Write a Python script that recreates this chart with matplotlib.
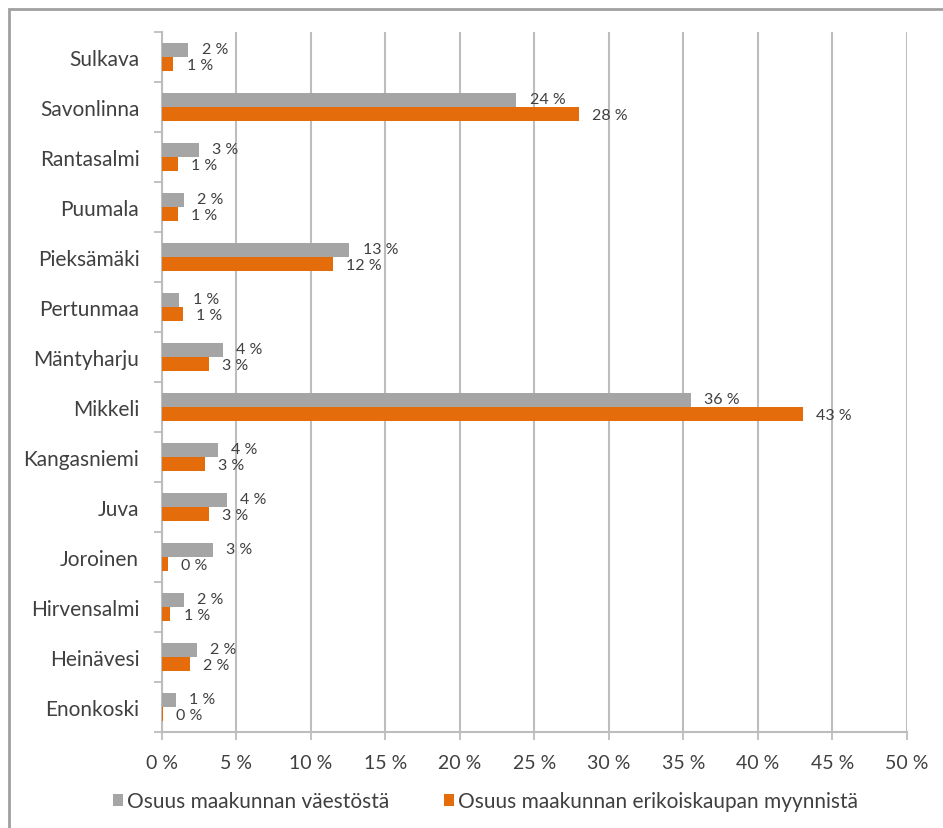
import matplotlib
matplotlib.use("Agg")
import matplotlib.pyplot as plt
from matplotlib.patches import Rectangle
import numpy as np

plt.rcParams['font.family'] = ['Lato', 'DejaVu Sans']

# Municipalities, listed top to bottom
municipalities = ["Sulkava", "Savonlinna", "Rantasalmi", "Puumala", "Pieksämäki",
                  "Pertunmaa", "Mäntyharju", "Mikkeli", "Kangasniemi", "Juva",
                  "Joroinen", "Hirvensalmi", "Heinävesi", "Enonkoski"]

# Share of the region's population (%)
population_share = [1.8, 23.8, 2.5, 1.5, 12.6, 1.2, 4.1, 35.5, 3.8, 4.4, 3.45, 1.5, 2.4, 0.95]

# Share of the region's specialty retail sales (%)
retail_share = [0.8, 28.0, 1.1, 1.1, 11.5, 1.45, 3.2, 43.0, 2.9, 3.2, 0.45, 0.6, 1.9, 0.12]

series_names = ["Osuus maakunnan väestöstä", "Osuus maakunnan erikoiskaupan myynnistä"]
x_ticks = [0, 5, 10, 15, 20, 25, 30, 35, 40, 45, 50]

GRAY = "#A5A5A5"
ORANGE = "#E46C0A"
GRID = "#BDBDBD"
TEXT = "#404040"


def pct(v):
    return f"{int(v + 0.5)} %"


fig = plt.figure(figsize=(9.43, 8.29), dpi=100)
ax = fig.add_axes([161.5 / 943, 1 - 733 / 829, (907 - 161.5) / 943, (733 - 33) / 829])

n = len(municipalities)
y = np.arange(n)
h = 0.28

ax.barh(y - h / 2, population_share, height=h, color=GRAY, label=series_names[0], zorder=3)
ax.barh(y + h / 2, retail_share, height=h, color=ORANGE, label=series_names[1], zorder=3)

for yi, v in zip(y, population_share):
    ax.annotate(pct(v), (v, yi - h / 2), xytext=(9.5, 0.5), textcoords="offset points",
                va="center", ha="left", fontsize=11.5, color=TEXT)
for yi, v in zip(y, retail_share):
    ax.annotate(pct(v), (v, yi + h / 2), xytext=(9.5, -0.5), textcoords="offset points",
                va="center", ha="left", fontsize=11.5, color=TEXT)

ax.set_xlim(0, 50)
ax.set_ylim(n - 0.5, -0.5)
ax.set_xticks(x_ticks)
ax.set_xticklabels([f"{t} %" for t in x_ticks], fontsize=14, color=TEXT)
ax.set_yticks(y)
ax.set_yticklabels(municipalities, fontsize=15, color=TEXT)
ax.set_yticks(np.arange(-0.5, n, 1.0), minor=True)

ax.tick_params(axis="y", which="major", length=0, pad=16)
ax.tick_params(axis="y", which="minor", length=6, color=GRID, width=1.3, direction="out")
ax.tick_params(axis="x", which="major", length=6, color=GRID, width=1.3, pad=10)

ax.grid(axis="x", color=GRID, linewidth=1.5, zorder=0)
ax.set_axisbelow(True)
for side in ("top", "right"):
    ax.spines[side].set_visible(False)
for side in ("left", "bottom"):
    ax.spines[side].set_color(GRID)
    ax.spines[side].set_linewidth(1.5)

fig.legend(loc="center", bbox_to_anchor=(0.515, 1 - 802 / 829), ncol=2, frameon=False,
           fontsize=15, handlelength=0.5, handleheight=0.5, handletextpad=0.2,
           columnspacing=2.6, labelcolor=TEXT)

# Chart area frame
fig.patches.append(Rectangle((9 / 943, -0.1), 1.2, 1 - 10 / 829 + 0.1,
                             transform=fig.transFigure, fill=False,
                             edgecolor="#A0A0A0", linewidth=2))

fig.savefig("out.png", dpi=100, facecolor="white")
